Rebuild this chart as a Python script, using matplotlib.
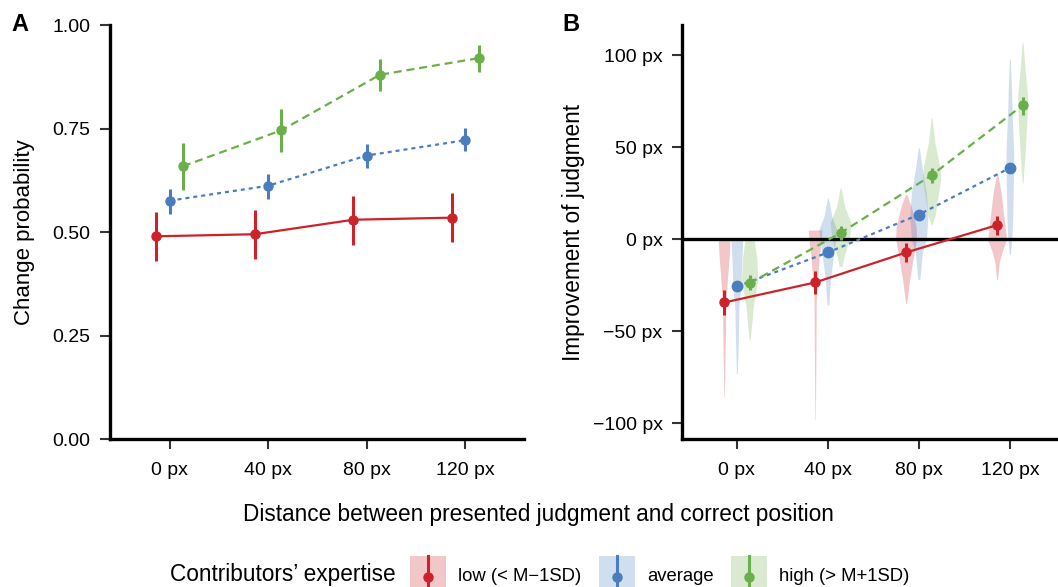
import numpy as np
import matplotlib.pyplot as plt
from matplotlib.patches import Rectangle
from matplotlib.lines import Line2D
from matplotlib.legend_handler import HandlerBase

plt.rcParams['font.family'] = ['Liberation Sans', 'DejaVu Sans']

# categories
distances = ["0 px", "40 px", "80 px", "120 px"]
groups = ["low (< M\u22121SD)", "average", "high (> M+1SD)"]
colors = ["#CC2229", "#4A7DBF", "#6BAF4B"]

# panel A: change probability (mean, lower, upper), rows = low / average / high
prob_mean = [[0.490, 0.495, 0.530, 0.535],
             [0.576, 0.612, 0.685, 0.722],
             [0.659, 0.746, 0.880, 0.920]]
prob_lower = [[0.430, 0.435, 0.469, 0.476],
              [0.544, 0.580, 0.655, 0.696],
              [0.601, 0.694, 0.841, 0.887]]
prob_upper = [[0.548, 0.553, 0.587, 0.594],
              [0.604, 0.640, 0.713, 0.751],
              [0.714, 0.797, 0.918, 0.952]]

# panel B: improvement of judgment (px)
impr_mean = [[-34.4, -23.5, -7.2, 7.7],
             [-25.7, -7.2, 13.4, 38.8],
             [-23.9, 3.4, 34.8, 72.8]]
impr_lower = [[-41.1, -29.7, -12.6, 2.5],
              [-28.0, -9.5, 11.0, 36.3],
              [-27.5, -0.3, 30.6, 67.3]]
impr_upper = [[-27.5, -17.5, -2.1, 12.4],
              [-23.4, -4.9, 15.8, 41.3],
              [-19.3, 7.0, 38.8, 77.5]]

# violin outlines: y values and full widths (x units)
viol_y = [
    [[0, -10, -19, -28, -35, -50, -65, -86],
     [5, -2, -9, -18, -31, -60, -98],
     [24.6, 18, 7, 0, -11, -22, -35],
     [36, 25, 14, 3.4, 0, -7.5, -13, -22]],
    [[0, -10, -26, -37, -56, -73],
     [22.4, 12.4, 5, -7.5, -22, -35.7],
     [49.7, 38, 25, 12.4, 0, -7.4, -22],
     [98, 83, 65, 47, 29, 10.6, 0, -8.4]],
    [[0, -10, -22, -37, -46, -55],
     [27.9, 17.9, 9, 0, -9.4, -14.8],
     [66, 52.4, 38, 32.4, 21.5, 12.4, 7.9],
     [107, 92.4, 77.8, 65, 47, 30.6]],
]
viol_w = [
    [[0.13, 0.11, 0.08, 0.055, 0.035, 0.03, 0.02, 0.005],
     [0.15, 0.13, 0.09, 0.065, 0.025, 0.018, 0.005],
     [0.01, 0.11, 0.22, 0.23, 0.15, 0.077, 0.01],
     [0.01, 0.09, 0.14, 0.19, 0.21, 0.10, 0.045, 0.01]],
    [[0.13, 0.11, 0.088, 0.044, 0.03, 0.01],
     [0.01, 0.088, 0.20, 0.13, 0.055, 0.02],
     [0.01, 0.077, 0.165, 0.20, 0.165, 0.077, 0.02],
     [0.01, 0.033, 0.055, 0.085, 0.077, 0.063, 0.044, 0.01]],
    [[0.10, 0.155, 0.18, 0.077, 0.047, 0.01],
     [0.01, 0.088, 0.23, 0.19, 0.077, 0.03],
     [0.01, 0.073, 0.19, 0.20, 0.13, 0.073, 0.01],
     [0.01, 0.055, 0.11, 0.095, 0.055, 0.01]],
]

yticks_B = [-100, -50, 0, 50, 100]
yticklabels_B = ["\u2212100 px", "\u221250 px", "0 px", "50 px", "100 px"]

line_styles = ['-', (0, (1.8, 1.8)), (0, (3.6, 2.2))]


class KeyHandler(HandlerBase):
    # shaded box with a vertical point-range, like the ggplot keys
    def create_artists(self, legend, orig_handle, xdescent, ydescent,
                       width, height, fontsize, trans):
        c = orig_handle.get_color()
        mid = 0.36 * fontsize
        half = 13.0
        cx = -xdescent + width / 2
        rect = Rectangle((-xdescent, mid - half), width, 2 * half, facecolor=c,
                         alpha=0.25, edgecolor='none', transform=trans)
        bar = Line2D([cx, cx], [mid - half, mid + half], color=c, lw=2.2, transform=trans)
        dot = Line2D([cx], [mid - 2.2], marker='o', ms=6.5, color=c,
                     linestyle='none', transform=trans)
        return [rect, bar, dot]


fig = plt.figure(figsize=(10.58, 5.87), dpi=100)
axA = fig.add_axes([0.1044, 0.2516, 0.3913, 0.7058])
axB = fig.add_axes([0.6449, 0.2516, 0.3612, 0.7058])

x = np.arange(1, 5)


def style(ax):
    for s in ['top', 'right']:
        ax.spines[s].set_visible(False)
    for s in ['left', 'bottom']:
        ax.spines[s].set_linewidth(2.4)
    ax.tick_params(direction='out', length=7.2, width=1.5, color='#333333',
                   labelsize=14, labelcolor='black')
    ax.tick_params(axis='x', pad=9)
    ax.tick_params(axis='y', pad=7)
    ax.set_xlim(0.4, 4.6)
    ax.set_xticks(x)
    ax.set_xticklabels(distances)


# Panel A
for g in range(3):
    xs = x + [-0.135, 0, 0.135][g]
    m = np.array(prob_mean[g])
    axA.plot(xs, m, color=colors[g], lw=1.6, linestyle=line_styles[g], zorder=2)
    axA.errorbar(xs, m, yerr=[m - np.array(prob_lower[g]), np.array(prob_upper[g]) - m],
                 fmt='o', color=colors[g], ms=6.5, elinewidth=2.2, capsize=0, zorder=3)

style(axA)
axA.set_ylim(0, 1)
axA.set_yticks([0, 0.25, 0.5, 0.75, 1.0])
axA.set_yticklabels(["0.00", "0.25", "0.50", "0.75", "1.00"])
axA.set_ylabel("Change probability", fontsize=16)
axA.yaxis.set_label_coords(-0.183, 0.5)

# Panel B
for g in range(3):
    for d in range(4):
        cx = x[d] + [-0.14, 0, 0.14][g]
        yv = np.array(viol_y[g][d])
        hw = np.array(viol_w[g][d]) / 2
        axB.fill_betweenx(yv, cx - hw, cx + hw, color=colors[g], alpha=0.25, lw=0, zorder=1)

axB.axhline(0, color='black', lw=2.4, zorder=2)

for g in range(3):
    xs = x + [-0.14, 0, 0.14][g]
    m = np.array(impr_mean[g])
    axB.plot(xs, m, color=colors[g], lw=1.6, linestyle=line_styles[g], zorder=3)
    axB.errorbar(xs, m, yerr=[m - np.array(impr_lower[g]), np.array(impr_upper[g]) - m],
                 fmt='o', color=colors[g], ms=7.5 if g == 1 else 6.5,
                 elinewidth=2.2, capsize=0, zorder=4)

style(axB)
axB.set_ylim(-108.8, 116.5)
axB.set_yticks(yticks_B)
axB.set_yticklabels(yticklabels_B)
axB.set_ylabel("Improvement of judgment", fontsize=16.3)
axB.yaxis.set_label_coords(-0.255, 0.5)

fig.text(538 / 1058, 1 - 515 / 587, "Distance between presented judgment and correct position",
         ha='center', va='center', fontsize=16.3)
fig.text(19.5 / 1058, 1 - 24.5 / 587, "A", ha='center', va='center', fontsize=17, fontweight='bold')
fig.text(570.5 / 1058, 1 - 24.5 / 587, "B", ha='center', va='center', fontsize=17, fontweight='bold')

# legend
key_handles = [Line2D([], [], color=c) for c in colors]
fig.text(170 / 1058, 1 - 575 / 587, "Contributors\u2019 expertise", ha='left', va='center', fontsize=16.3)
fig.legend(key_handles, groups, loc='center left', bbox_to_anchor=(410 / 1058, 1 - 575 / 587),
           ncol=3, frameon=False, fontsize=13.3, handlelength=1.95, handleheight=2.2,
           handletextpad=0.65, columnspacing=0.95, borderpad=0, borderaxespad=0,
           handler_map={Line2D: KeyHandler()})

fig.savefig("out.png", dpi=100)
